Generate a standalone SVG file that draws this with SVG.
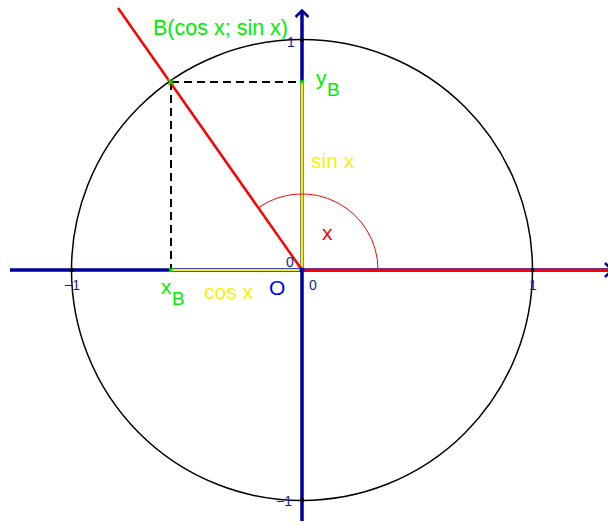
<svg xmlns="http://www.w3.org/2000/svg" width="608" height="525" viewBox="0 0 608 525">
<defs>
<style>
text{font-family:"Liberation Sans",Arial,sans-serif}
.axis{stroke:#00009c;stroke-width:3.5;fill:none}
.tick{font-size:14px;fill:#1a1aa0}
.green{fill:#00ee00}
.yellow{fill:#f4f400}
</style>
</defs>
<rect width="608" height="525" fill="#fff"/>
<g id="circle"><circle cx="302" cy="270" r="230.5" fill="none" stroke="#000" stroke-width="1.5"/></g>
<g id="connectors">
<line class="axis" x1="10" y1="270" x2="612" y2="270"/>
<polyline points="605,263 612,270 605,277" fill="none" stroke="#00009c" stroke-width="2.5"/>
<line class="axis" x1="302" y1="521" x2="302" y2="11" stroke-width="2.8"/>
<polyline points="295.5,17 302,10.5 308.5,17" fill="none" stroke="#00009c" stroke-width="2.5"/>
<line x1="302" y1="270" x2="612" y2="270" stroke="#ff0000" stroke-width="2.5"/>
<line x1="171" y1="270" x2="302" y2="270" stroke="#f4f400" stroke-width="2"/>
<line x1="302" y1="270" x2="302" y2="82" stroke="#f4f400" stroke-width="2.8"/>
<line x1="171" y1="82" x2="300" y2="82" stroke="#000" stroke-width="2" stroke-dasharray="8,5"/>
<line x1="171" y1="82" x2="171" y2="269" stroke="#000" stroke-width="2" stroke-dasharray="8,5"/>
<line x1="118" y1="8" x2="302" y2="270" stroke="#ff0000" stroke-width="2.5"/>
<path d="M378,270 A76,76 0 0 0 258.4,207.7" fill="none" stroke="#ff0000" stroke-width="1"/>
<g stroke="#00ee00" stroke-width="1.5">
<path d="M168,79 l6,6 M174,79 l-6,6"/>
<path d="M300,80 l4,4 M304,80 l-4,4"/>
<path d="M169,268 l4,4 M173,268 l-4,4"/>
</g>
<g fill="#000">
<rect x="300" y="38.5" width="4" height="3"/>
<rect x="300" y="498.5" width="4" height="3"/>
<rect x="70.5" y="268" width="3" height="4"/>
<rect x="531" y="268" width="3" height="4"/>
</g>
<circle cx="302" cy="270" r="2.5" fill="#0000cc"/>
</g>
<g id="labels">
<text class="green" x="153" y="35" font-size="21.5">B(cos x; sin x)</text>
<text class="tick" x="287" y="47">1</text>
<text class="green" x="316" y="85" font-size="21">y</text>
<text class="green" x="327" y="96" font-size="19">B</text>
<text class="yellow" x="311" y="168" font-size="21">sin x</text>
<text x="322" y="240" font-size="21" fill="#ff0000">x</text>
<text class="tick" x="286" y="267">0</text>
<text class="tick" x="309" y="290">0</text>
<text x="269" y="295" font-size="21" fill="#0000ff">O</text>
<text class="yellow" x="204" y="299" font-size="21">cos x</text>
<text class="green" x="161" y="294" font-size="21">x</text>
<text class="green" x="172" y="305" font-size="19">B</text>
<text class="tick" x="64" y="290">−1</text>
<text class="tick" x="529" y="290">1</text>
<text class="tick" x="276" y="506">−1</text>
</g>
</svg>
